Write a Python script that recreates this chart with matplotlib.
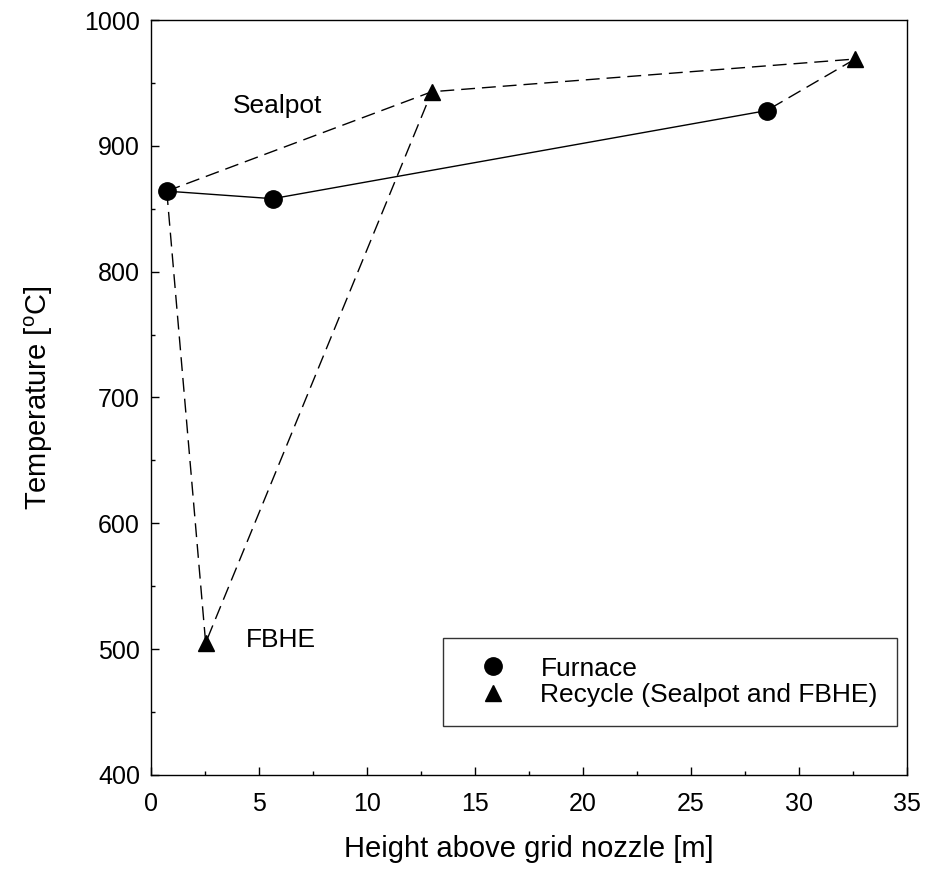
import matplotlib
matplotlib.use('Agg')
import matplotlib.pyplot as plt
from matplotlib.ticker import MultipleLocator

# Furnace measurements
furnace_x = [0.73, 5.63, 28.5]
furnace_y = [864, 858, 928]

# Recycle loop (Sealpot and FBHE) points
recycle_x = [13.0, 32.6, 2.53]
recycle_y = [943, 969, 505]

# Dashed connections of the recycle loop
sealpot_path_x = [0.73, 13.0, 32.6, 28.5]
sealpot_path_y = [864, 943, 969, 928]
fbhe_path_x = [0.73, 2.53, 13.0]
fbhe_path_y = [864, 505, 943]

plt.rcParams['font.family'] = ['Liberation Sans', 'DejaVu Sans']
plt.rcParams['mathtext.fontset'] = 'custom'
plt.rcParams['mathtext.rm'] = 'Liberation Sans'

fig = plt.figure(figsize=(9.27, 8.74), dpi=100)
ax = fig.add_axes([0.1629, 0.1133, 0.8155, 0.8638])

# Dashed lines of recycle loop
ax.plot(sealpot_path_x, sealpot_path_y, color='black', linewidth=1.0,
        dashes=(10, 5), zorder=2)
ax.plot(fbhe_path_x, fbhe_path_y, color='black', linewidth=1.0,
        dashes=(10, 5), zorder=2)

# Solid furnace line
ax.plot(furnace_x, furnace_y, color='black', linewidth=1.0, zorder=2)

# Markers
ax.plot(furnace_x, furnace_y, linestyle='none', marker='o', markersize=12.5,
        color='black', label='Furnace', zorder=3)
ax.plot(recycle_x, recycle_y, linestyle='none', marker='^', markersize=12,
        color='black', label='Recycle (Sealpot and FBHE)', zorder=3)

ax.text(3.8, 932, 'Sealpot', fontsize=19, va='center', ha='left')
ax.text(4.4, 507, 'FBHE', fontsize=19, va='center', ha='left')

ax.set_xlim(0, 35)
ax.set_ylim(400, 1000)
ax.xaxis.set_major_locator(MultipleLocator(5))
ax.xaxis.set_minor_locator(MultipleLocator(2.5))
ax.yaxis.set_major_locator(MultipleLocator(100))
ax.yaxis.set_minor_locator(MultipleLocator(50))

ax.tick_params(which='both', direction='in', top=False, right=False,
               labelsize=18, width=1.0)
ax.tick_params(which='major', length=5.5)
ax.tick_params(which='minor', length=3)
ax.tick_params(axis='x', which='major', pad=12)
ax.tick_params(axis='y', which='major', pad=8)
for spine in ax.spines.values():
    spine.set_linewidth(1.0)

ax.set_xlabel('Height above grid nozzle [m]', fontsize=21, labelpad=14)
ax.set_ylabel(r'Temperature [$^{\mathrm{o}}$C]', fontsize=21, labelpad=21)

leg = ax.legend(loc='center', bbox_to_anchor=(0.386, 0.0596, 0.601, 0.127),
                mode='expand', fontsize=19, frameon=True, fancybox=False,
                borderpad=0.7, labelspacing=0.1, handlelength=2.4,
                handletextpad=0.6, borderaxespad=0)
leg.get_frame().set_edgecolor('black')
leg.get_frame().set_linewidth(1.0)

fig.savefig('out.png', dpi=100)
